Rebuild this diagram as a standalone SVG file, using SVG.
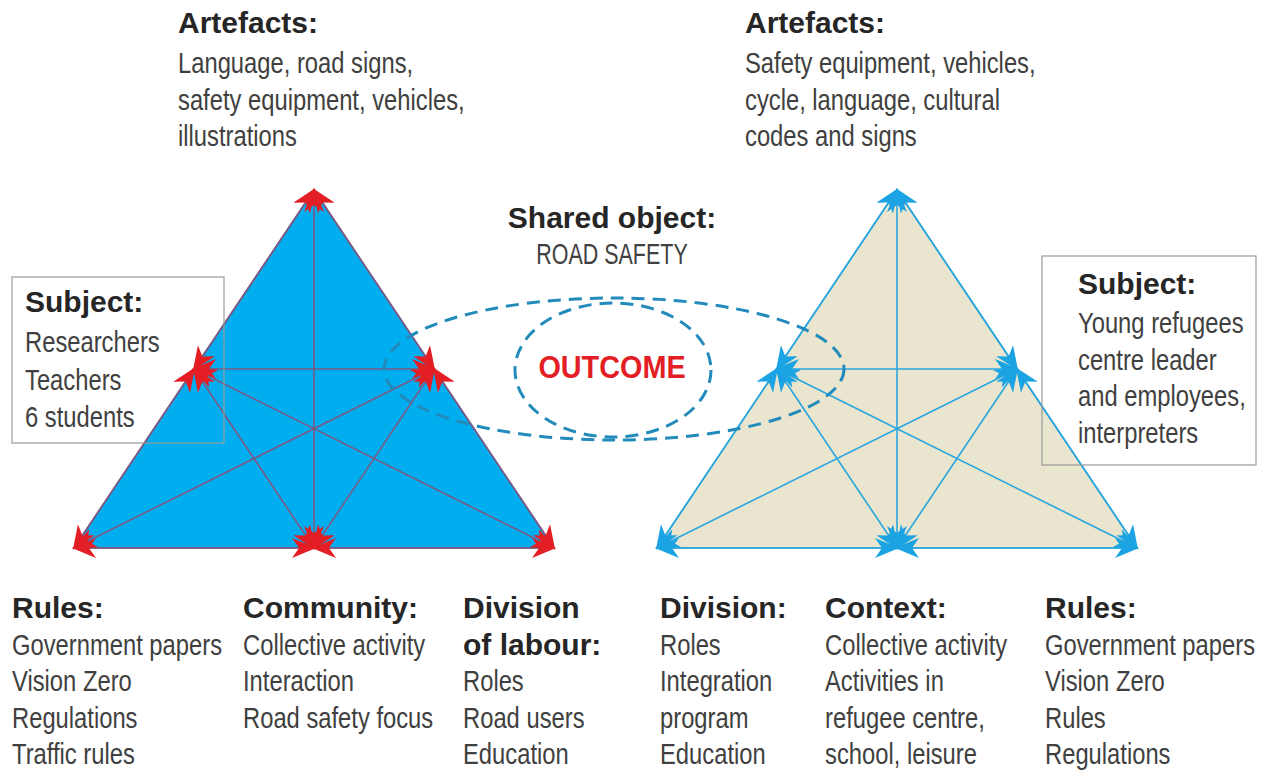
<svg xmlns="http://www.w3.org/2000/svg" width="1265" height="773" viewBox="0 0 1265 773">
<style>
text{font-family:"Liberation Sans",Arial,sans-serif;}
.h{font-size:30px;font-weight:bold;fill:#262626;}
.b{font-size:29px;fill:#404040;}
.lr{stroke:#7a5a86;stroke-width:1.6;fill:none;marker-start:url(#ar);marker-end:url(#ar);}
.lb{stroke:#2aa6de;stroke-width:1.6;fill:none;marker-start:url(#ab);marker-end:url(#ab);}
.box{fill:none;stroke:#9a9a9a;stroke-width:1.2;}
.dash{fill:none;stroke:#238bbb;stroke-width:3;stroke-dasharray:13 8;}
</style>
<defs>
<marker id="ar" viewBox="0 0 24 20" refX="22" refY="10" markerWidth="24" markerHeight="20" markerUnits="userSpaceOnUse" orient="auto-start-reverse"><path d="M0,0 L24,10 L0,20 L7,10 z" fill="#e31e24"/></marker>
<marker id="ab" viewBox="0 0 24 20" refX="22" refY="10" markerWidth="24" markerHeight="20" markerUnits="userSpaceOnUse" orient="auto-start-reverse"><path d="M0,0 L24,10 L0,20 L7,10 z" fill="#1ba3e3"/></marker>
</defs>
<rect width="1265" height="773" fill="#ffffff"/>

<g id="left-triangle">
<polygon points="314,190 74,548 554,548" fill="#00aeef" stroke="#7a5a86" stroke-width="1.6"/>
</g>
<g id="right-triangle">
<polygon points="897,190 657,548 1137,548" fill="#e9e5cf" stroke="#2aa6de" stroke-width="1.6"/>
</g>

<g id="connectors">
<line class="lr" x1="314" y1="190" x2="194" y2="369"/>
<line class="lr" x1="194" y1="369" x2="74" y2="548"/>
<line class="lr" x1="314" y1="190" x2="434" y2="369"/>
<line class="lr" x1="434" y1="369" x2="554" y2="548"/>
<line class="lr" x1="74" y1="548" x2="314" y2="548"/>
<line class="lr" x1="314" y1="548" x2="554" y2="548"/>
<line class="lr" x1="314" y1="190" x2="314" y2="548"/>
<line class="lr" x1="194" y1="369" x2="434" y2="369"/>
<line class="lr" x1="194" y1="369" x2="554" y2="548"/>
<line class="lr" x1="434" y1="369" x2="74" y2="548"/>
<line class="lr" x1="194" y1="369" x2="314" y2="548"/>
<line class="lr" x1="434" y1="369" x2="314" y2="548"/>

<line class="lb" x1="897" y1="190" x2="777" y2="369"/>
<line class="lb" x1="777" y1="369" x2="657" y2="548"/>
<line class="lb" x1="897" y1="190" x2="1017" y2="369"/>
<line class="lb" x1="1017" y1="369" x2="1137" y2="548"/>
<line class="lb" x1="657" y1="548" x2="897" y2="548"/>
<line class="lb" x1="897" y1="548" x2="1137" y2="548"/>
<line class="lb" x1="897" y1="190" x2="897" y2="548"/>
<line class="lb" x1="777" y1="369" x2="1017" y2="369"/>
<line class="lb" x1="777" y1="369" x2="1137" y2="548"/>
<line class="lb" x1="1017" y1="369" x2="657" y2="548"/>
<line class="lb" x1="777" y1="369" x2="897" y2="548"/>
<line class="lb" x1="1017" y1="369" x2="897" y2="548"/>
</g>

<g id="outcome">
<ellipse class="dash" cx="614" cy="369" rx="230" ry="71"/>
<ellipse class="dash" cx="613" cy="370" rx="98" ry="67"/>
<g transform="translate(612,378) scale(0.9,1)"><text x="0" y="0" text-anchor="middle" style="font-size:32px;font-weight:bold;fill:#e31e24;">OUTCOME</text></g>
</g>

<g id="shared-object">
<text class="h" x="612" y="228" text-anchor="middle">Shared object:</text>
<g transform="translate(612,0) scale(0.74,1)"><text class="b" x="0" y="264" text-anchor="middle">ROAD SAFETY</text></g>
</g>

<g id="left-artefacts">
<text class="h" x="178" y="33">Artefacts:</text>
<g transform="translate(178,0) scale(0.82,1)">
<text class="b" x="0" y="73">Language, road signs,</text>
<text class="b" x="0" y="110">safety equipment, vehicles,</text>
<text class="b" x="0" y="146">illustrations</text>
</g>
</g>
<g id="right-artefacts">
<text class="h" x="745" y="33">Artefacts:</text>
<g transform="translate(745,0) scale(0.82,1)">
<text class="b" x="0" y="73">Safety equipment, vehicles,</text>
<text class="b" x="0" y="110">cycle, language, cultural</text>
<text class="b" x="0" y="146">codes and signs</text>
</g>
</g>

<g id="left-subject">
<rect class="box" x="12" y="277" width="212" height="166"/>
<text class="h" x="25" y="312">Subject:</text>
<g transform="translate(25,0) scale(0.82,1)">
<text class="b" x="0" y="352">Researchers</text>
<text class="b" x="0" y="390">Teachers</text>
<text class="b" x="0" y="427">6 students</text>
</g>
</g>
<g id="right-subject">
<rect class="box" x="1042" y="256" width="214" height="209"/>
<text class="h" x="1078" y="294">Subject:</text>
<g transform="translate(1078,0) scale(0.82,1)">
<text class="b" x="0" y="333">Young refugees</text>
<text class="b" x="0" y="370">centre leader</text>
<text class="b" x="0" y="406">and employees,</text>
<text class="b" x="0" y="443">interpreters</text>
</g>
</g>

<g id="left-rules">
<text class="h" x="12" y="618">Rules:</text>
<g transform="translate(12,0) scale(0.82,1)">
<text class="b" x="0" y="655">Government papers</text>
<text class="b" x="0" y="691">Vision Zero</text>
<text class="b" x="0" y="728">Regulations</text>
<text class="b" x="0" y="764">Traffic rules</text>
</g>
</g>
<g id="left-community">
<text class="h" x="243" y="618">Community:</text>
<g transform="translate(243,0) scale(0.82,1)">
<text class="b" x="0" y="655">Collective activity</text>
<text class="b" x="0" y="691">Interaction</text>
<text class="b" x="0" y="728">Road safety focus</text>
</g>
</g>
<g id="left-division">
<text class="h" x="463" y="618">Division</text>
<text class="h" x="463" y="655">of labour:</text>
<g transform="translate(463,0) scale(0.82,1)">
<text class="b" x="0" y="691">Roles</text>
<text class="b" x="0" y="728">Road users</text>
<text class="b" x="0" y="764">Education</text>
</g>
</g>
<g id="right-division">
<text class="h" x="660" y="618">Division:</text>
<g transform="translate(660,0) scale(0.82,1)">
<text class="b" x="0" y="655">Roles</text>
<text class="b" x="0" y="691">Integration</text>
<text class="b" x="0" y="728">program</text>
<text class="b" x="0" y="764">Education</text>
</g>
</g>
<g id="right-context">
<text class="h" x="825" y="618">Context:</text>
<g transform="translate(825,0) scale(0.82,1)">
<text class="b" x="0" y="655">Collective activity</text>
<text class="b" x="0" y="691">Activities in</text>
<text class="b" x="0" y="728">refugee centre,</text>
<text class="b" x="0" y="764">school, leisure</text>
</g>
</g>
<g id="right-rules">
<text class="h" x="1045" y="618">Rules:</text>
<g transform="translate(1045,0) scale(0.82,1)">
<text class="b" x="0" y="655">Government papers</text>
<text class="b" x="0" y="691">Vision Zero</text>
<text class="b" x="0" y="728">Rules</text>
<text class="b" x="0" y="764">Regulations</text>
</g>
</g>
</svg>
